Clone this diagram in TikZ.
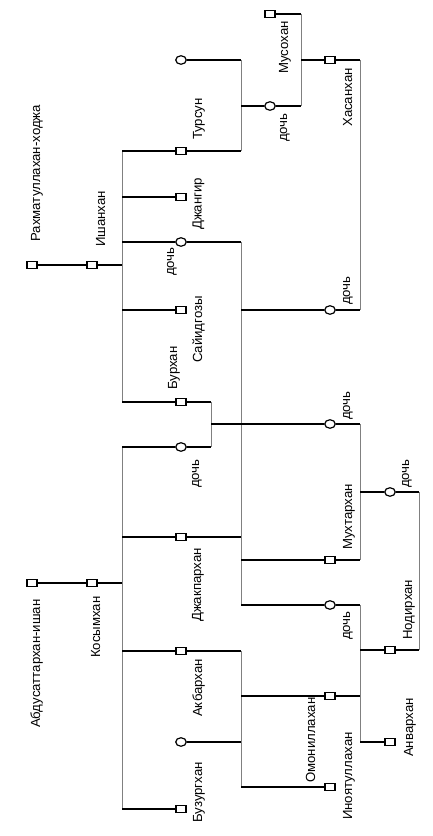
\documentclass[tikz,border=0pt]{standalone}
\usepackage{fontspec}
\setmainfont{Liberation Sans}
\usetikzlibrary{shapes.geometric}
\tikzset{
  male/.style={draw, rectangle, fill=white, minimum width=10pt, minimum height=7.5pt, inner sep=0pt, line width=1.2pt},
  female/.style={draw, ellipse, fill=white, minimum width=10.5pt, minimum height=8.5pt, inner sep=0pt, line width=1.2pt},
  nm/.style={rotate=90, anchor=base west, inner sep=0pt, font=\fontsize{13.2}{16}\selectfont},
  hl/.style={line width=1.6pt},
  vl/.style={line width=0.9pt, gray}
}
\begin{document}
\begin{tikzpicture}[x=1pt,y=-1pt]
\useasboundingbox (0,0) rectangle (432,836);
\node[male] (rah) at (32,265) {};
\node[male] (ish) at (92,265) {};
\node[male] (abd) at (32,583) {};
\node[male] (kos) at (92,583) {};
\coordinate (ishJ) at (122,265);
\coordinate (kosJ) at (122,583);
\coordinate (ishA) at (122,151);
\coordinate (ishB) at (122,197);
\coordinate (ishC) at (122,242);
\coordinate (ishD) at (122,310);
\coordinate (ishE) at (122,402);
\coordinate (kosA) at (122,447);
\coordinate (kosB) at (122,537);
\coordinate (kosC) at (122,651);
\coordinate (kosD) at (122,809);
\node[male] (tur) at (181,151) {};
\node[female] (turW) at (181,60) {};
\node[male] (dzh) at (181,197) {};
\node[female] (ishDau) at (181,242) {};
\node[male] (say) at (181,310) {};
\node[male] (bur) at (181,402) {};
\node[female] (kosDau) at (181,447) {};
\node[male] (dzk) at (181,537) {};
\node[male] (akb) at (181,651) {};
\node[female] (akbW) at (181,742) {};
\node[male] (buz) at (181,809) {};
\coordinate (turM1) at (241,60);
\coordinate (turM2) at (241,151);
\coordinate (turC) at (241,106);
\coordinate (burM1) at (211,402);
\coordinate (burM2) at (211,447);
\coordinate (burC) at (211,424);
\coordinate (dzkM1) at (241,242);
\coordinate (dzkM2) at (241,537);
\coordinate (dzkC1) at (241,310);
\coordinate (dzkC2) at (241,560);
\coordinate (dzkC3) at (241,605);
\coordinate (akbM1) at (241,651);
\coordinate (akbM2) at (241,742);
\coordinate (akbC1) at (241,696);
\coordinate (akbC2) at (241,787);
\node[male] (mus) at (270,14) {};
\node[female] (turDau) at (270,106) {};
\node[male] (has) at (330,60) {};
\node[female] (dzkDau1) at (330,310) {};
\node[female] (burDau) at (330,424) {};
\node[male] (muh) at (330,560) {};
\node[female] (dzkDau2) at (330,605) {};
\node[male] (omo) at (330,696) {};
\node[male] (ino) at (330,787) {};
\coordinate (musM1) at (301,14);
\coordinate (musM2) at (301,106);
\coordinate (musC) at (301,60);
\coordinate (hasM1) at (360,60);
\coordinate (hasM2) at (360,310);
\coordinate (muhM1) at (360,424);
\coordinate (muhM2) at (360,560);
\coordinate (muhC) at (360,492);
\coordinate (omoM1) at (360,605);
\coordinate (omoM2) at (360,696);
\coordinate (omoC1) at (360,650);
\coordinate (omoC2) at (360,742);
\node[female] (muhDau) at (390,492) {};
\node[male] (nod) at (390,650) {};
\node[male] (anv) at (390,742) {};
\coordinate (nodM1) at (419,492);
\coordinate (nodM2) at (419,650);

\draw[vl] (ishA) -- (ishE);
\draw[vl] (kosA) -- (kosD);
\draw[vl] (turM1) -- (turM2);
\draw[vl] (burM1) -- (burM2);
\draw[vl] (dzkM1) -- (dzkC3);
\draw[vl] (akbM1) -- (akbC2);
\draw[vl] (musM1) -- (musM2);
\draw[vl] (hasM1) -- (hasM2);
\draw[vl] (muhM1) -- (muhM2);
\draw[vl] (omoM1) -- (omoC2);
\draw[vl] (nodM1) -- (nodM2);

\draw[hl] (rah) -- (ish) -- (ishJ);
\draw[hl] (abd) -- (kos) -- (kosJ);
\draw[hl] (ishA) -- (tur) -- (turM2);
\draw[hl] (turW) -- (turM1);
\draw[hl] (ishB) -- (dzh);
\draw[hl] (ishC) -- (ishDau) -- (dzkM1);
\draw[hl] (ishD) -- (say);
\draw[hl] (ishE) -- (bur) -- (burM1);
\draw[hl] (kosA) -- (kosDau) -- (burM2);
\draw[hl] (kosB) -- (dzk) -- (dzkM2);
\draw[hl] (kosC) -- (akb) -- (akbM1);
\draw[hl] (akbW) -- (akbM2);
\draw[hl] (kosD) -- (buz);
\draw[hl] (mus) -- (musM1);
\draw[hl] (turC) -- (turDau) -- (musM2);
\draw[hl] (musC) -- (has) -- (hasM1);
\draw[hl] (dzkC1) -- (dzkDau1) -- (hasM2);
\draw[hl] (burC) -- (burDau) -- (muhM1);
\draw[hl] (dzkC2) -- (muh) -- (muhM2);
\draw[hl] (dzkC3) -- (dzkDau2) -- (omoM1);
\draw[hl] (akbC1) -- (omo) -- (omoM2);
\draw[hl] (akbC2) -- (ino);
\draw[hl] (muhC) -- (muhDau) -- (nodM1);
\draw[hl] (omoC1) -- (nod) -- (nodM2);
\draw[hl] (omoC2) -- (anv);

\node[nm] (lRah) at (40,241.7) {Рахматуллахан-ходжа};
\node[nm] (lIsh) at (105,247) {Ишанхан};
\node[nm] (lAbd) at (40,728) {Абдусаттархан-ишан};
\node[nm] (lKos) at (100,658) {Косымхан};
\node[nm] (lTur) at (202,140) {Турсун};
\node[nm] (lDzh) at (201.5,230) {Джангир};
\node[nm] (lIshDau) at (174,276) {дочь};
\node[nm] (lSay) at (202,363) {Сайидгозы};
\node[nm] (lBur) at (177,390) {Бурхан};
\node[nm] (lKosDau) at (199,488) {дочь};
\node[nm] (lDzk) at (201,622) {Джакпархан};
\node[nm] (lAkb) at (202,717) {Акбархан};
\node[nm] (lBuz) at (202,823) {Бузургхан};
\node[nm] (lMus) at (288,74) {Мусохан};
\node[nm] (lTurDau) at (287,142) {дочь};
\node[nm] (lHas) at (352,127) {Хасанхан};
\node[nm] (lDzkDau1) at (350,305) {дочь};
\node[nm] (lBurDau) at (350,420) {дочь};
\node[nm] (lMuh) at (352,550) {Мухтархан};
\node[nm] (lMuhDau) at (409,488) {дочь};
\node[nm] (lDzkDau2) at (350,640) {дочь};
\node[nm] (lNod) at (412,640) {Нодирхан};
\node[nm] (lOmo) at (315,783) {Омониллахан};
\node[nm] (lIno) at (352,820) {Иноятуллахан};
\node[nm] (lAnv) at (413,757) {Анвархан};
\end{tikzpicture}
\end{document}
